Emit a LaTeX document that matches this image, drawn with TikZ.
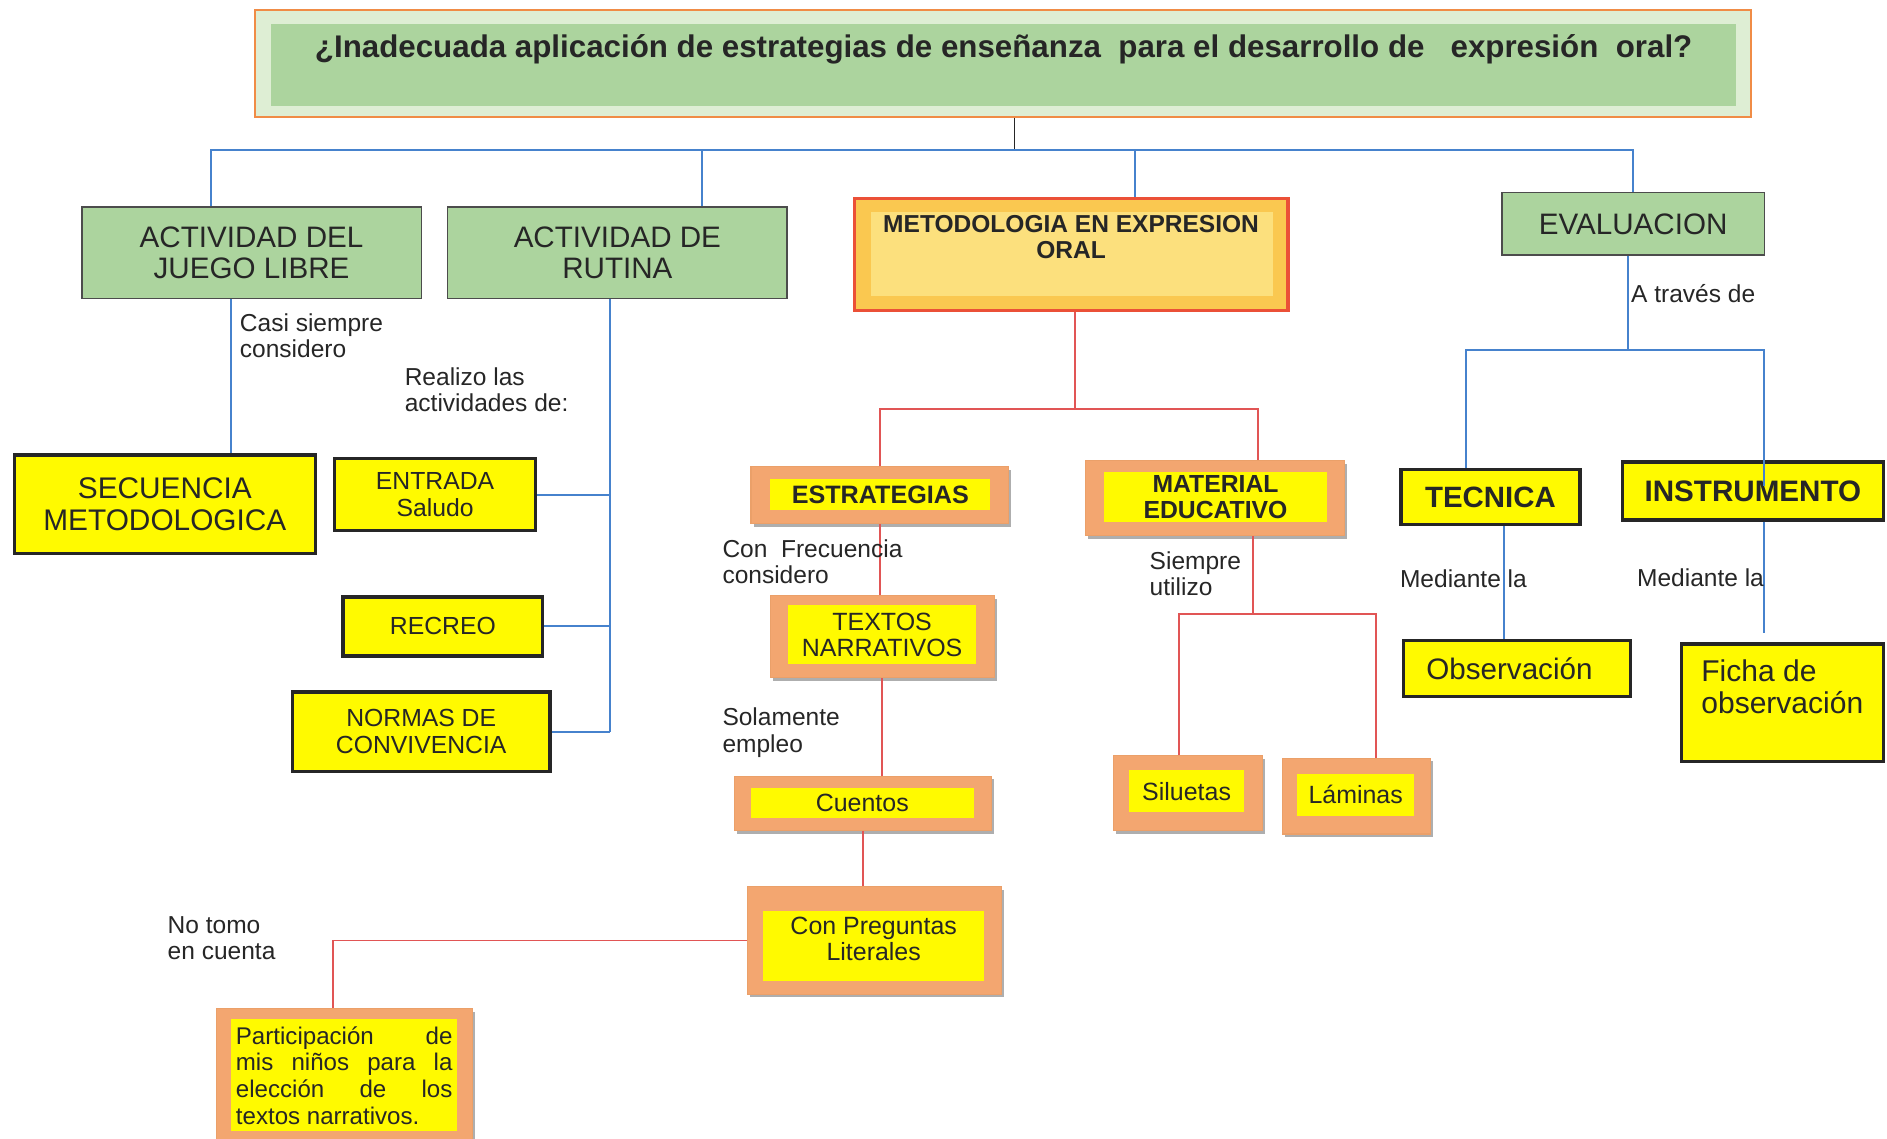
\documentclass[tikz,border=0pt]{standalone}
\usepackage{fontspec}
\setmainfont{Liberation Sans}
\usetikzlibrary{shadows}
\hyphenpenalty=10000
\exhyphenpenalty=10000

\definecolor{boxgreen}{RGB}{172,212,158}
\definecolor{titleorange}{RGB}{240,140,70}
\definecolor{titlepale}{RGB}{222,238,212}
\definecolor{boxyellow}{RGB}{255,250,0}
\definecolor{frameorange}{RGB}{243,166,112}
\definecolor{metred}{RGB}{235,80,55}
\definecolor{metgold}{RGB}{250,200,80}
\definecolor{metlight}{RGB}{252,224,125}
\definecolor{lineblue}{RGB}{70,130,205}
\definecolor{linered}{RGB}{225,85,85}

\begin{document}
\begin{tikzpicture}[x=0.02cm, y=-0.02cm,
    greenbox/.style={rectangle, draw=black!70, line width=0.6pt, fill=boxgreen, align=center, text=black!85, font=\fontsize{14}{15}\selectfont},
    yellowbox/.style={rectangle, draw=black!85, line width=1.6pt, fill=boxyellow, align=center, inner sep=1pt, text=black!85, font=\fontsize{11.7}{12.5}\selectfont},
    orangeframe/.style={rectangle, draw=frameorange!85!brown, line width=0.5pt, fill=frameorange, drop shadow={shadow xshift=1.2pt, shadow yshift=-1.5pt, fill=black!70, opacity=0.45}},
    innerbox/.style={rectangle, fill=boxyellow, align=center, inner sep=1pt, text=black!85, font=\fontsize{11.8}{12.5}\selectfont},
    note/.style={anchor=north west, align=left, inner sep=0pt, text=black!85, font=\fontsize{11.6}{12.5}\selectfont},
    blueline/.style={draw=lineblue, line width=0.9pt},
    redline/.style={draw=linered, line width=0.9pt}
]
\useasboundingbox (0,0) rectangle (1568,946);

% Title
\node[rectangle, draw=titleorange, line width=1pt, fill=titlepale, minimum width=24.86cm, minimum height=1.78cm] (titleframe) at (833.5,52.5) {};
\node[rectangle, fill=boxgreen, minimum width=24.36cm, minimum height=1.36cm, text=black!85, font=\fontsize{14.8}{16}\selectfont\bfseries] (title) at (834,54) {\raisebox{0.64cm}{¿Inadecuada aplicación de estrategias de enseñanza\ \ para el desarrollo de \ \ expresión\ \ oral?}};

% First level
\node[greenbox, minimum width=5.64cm, minimum height=1.52cm] (juego) at (209,210) {ACTIVIDAD DEL\\JUEGO LIBRE};
\node[greenbox, minimum width=5.64cm, minimum height=1.52cm] (rutina) at (513,210) {ACTIVIDAD DE\\RUTINA};
\node[rectangle, draw=metred, line width=1.8pt, fill=metgold, minimum width=7.2cm, minimum height=1.86cm] (metod) at (890,211.5) {};
\node[rectangle, fill=metlight, minimum width=6.68cm, minimum height=1.4cm] (metodfill) at (891,211) {};
\node[align=center, inner sep=0pt, text=black!85, font=\fontsize{11.6}{12.5}\selectfont\bfseries] (metodtext) at (890,197) {METODOLOGIA EN EXPRESION\\ORAL};
\node[greenbox, minimum width=4.36cm, minimum height=1.04cm] (evaluacion) at (1357,186) {EVALUACION};

% Juego libre y rutina
\node[yellowbox, minimum width=5cm, minimum height=1.64cm, font=\fontsize{14.1}{15.3}\selectfont] (secuencia) at (137,419) {SECUENCIA\\METODOLOGICA};
\node[yellowbox, minimum width=3.34cm, minimum height=1.2cm] (entrada) at (361.5,411) {ENTRADA\\Saludo};
\node[yellowbox, minimum width=3.32cm, minimum height=0.98cm] (recreo) at (368,520.5) {RECREO};
\node[yellowbox, minimum width=4.28cm, minimum height=1.32cm, font=\fontsize{11.7}{13}\selectfont] (normas) at (350,608) {NORMAS DE\\CONVIVENCIA};

% Metodologia
\node[orangeframe, minimum width=4.28cm, minimum height=0.94cm] (estrframe) at (731,411.5) {};
\node[innerbox, minimum width=3.66cm, minimum height=0.52cm, font=\fontsize{11.9}{12.5}\selectfont\bfseries] (estrategias) at (731.5,411) {ESTRATEGIAS};
\node[orangeframe, minimum width=4.3cm, minimum height=1.24cm] (matframe) at (1009.5,414) {};
\node[innerbox, minimum width=3.72cm, minimum height=0.84cm, font=\fontsize{11.7}{12.5}\selectfont\bfseries] (material) at (1010,413) {MATERIAL\\EDUCATIVO};
\node[orangeframe, minimum width=3.72cm, minimum height=1.36cm] (textosframe) at (733,529) {};
\node[innerbox, minimum width=3.12cm, minimum height=0.98cm] (textos) at (733,527.5) {TEXTOS\\NARRATIVOS};
\node[orangeframe, minimum width=4.28cm, minimum height=0.9cm] (cuentosframe) at (717,667.5) {};
\node[innerbox, minimum width=3.7cm, minimum height=0.5cm] (cuentos) at (716.5,667.5) {Cuentos};
\node[orangeframe, minimum width=4.22cm, minimum height=1.78cm] (pregframe) at (726.5,781.5) {};
\node[innerbox, minimum width=3.68cm, minimum height=1.16cm] (preguntas) at (726,786) {Con Preguntas\\Literales\\[-5.7pt]\mbox{}};
\node[orangeframe, minimum width=4.26cm, minimum height=2.24cm] (partframe) at (286.5,894) {};
\node[innerbox, minimum width=3.76cm, minimum height=1.86cm, text width=3.6cm, align=justify, font=\fontsize{11.4}{12.6}\selectfont] (participacion) at (286,893.5) {Participación de mis niños para la elección de los textos narrativos.};
\node[orangeframe, minimum width=2.48cm, minimum height=1.24cm] (silframe) at (987,659) {};
\node[innerbox, minimum width=1.92cm, minimum height=0.7cm] (siluetas) at (986,657.5) {Siluetas};
\node[orangeframe, minimum width=2.46cm, minimum height=1.26cm] (lamframe) at (1127.5,661.5) {};
\node[innerbox, minimum width=1.94cm, minimum height=0.7cm] (laminas) at (1126.5,660.5) {Láminas};

% Evaluacion
\node[yellowbox, minimum width=2.98cm, minimum height=0.92cm, font=\fontsize{13.9}{15}\selectfont\bfseries] (tecnica) at (1238.5,413) {TECNICA};
\node[yellowbox, minimum width=4.34cm, minimum height=0.96cm, font=\fontsize{14}{15}\selectfont\bfseries] (instrumento) at (1456.5,408) {INSTRUMENTO};
\node[yellowbox, minimum width=3.78cm, minimum height=0.94cm, font=\fontsize{14}{15}\selectfont] (observacion) at (1260.5,555.5) {Observación\hspace{0.25cm}};
\node[yellowbox, minimum width=3.36cm, minimum height=1.96cm, align=left, font=\fontsize{14.2}{15.3}\selectfont] (ficha) at (1481,584) {Ficha de\\observación\\\mbox{}};

% Connectors
\coordinate (busL) at (175,125);
\coordinate (busR) at (1357,125);
\draw[black!85, line width=0.8pt] ([xshift=0.19cm]titleframe.south) -- ([xshift=0.19cm]titleframe.south |- busL);
\draw[blueline] (juego.north -| busL) -- (busL) -- (busR) -- (evaluacion.north);
\draw[blueline] ([xshift=1.4cm]rutina.north) -- ([xshift=1.4cm]rutina.north |- busL);
\draw[blueline] ([xshift=1.06cm]metod.north) -- ([xshift=1.06cm]metod.north |- busL);

\draw[blueline] ([xshift=-0.34cm]juego.south) -- ([xshift=-0.34cm]juego.south |- secuencia.north);
\coordinate (rutspine) at (507,608);
\draw[blueline] (rutina.south -| rutspine) -- (rutspine);
\draw[blueline] (entrada.east) -- (entrada.east -| rutspine);
\draw[blueline] (recreo.east) -- (recreo.east -| rutspine);
\draw[blueline] (normas.east) -- (rutspine);

\coordinate (metjoin) at (893,340);
\draw[redline] (metod.south -| metjoin) -- (metjoin);
\draw[redline] (estrframe.north) |- (metjoin) -| ([xshift=0.71cm]matframe.north);
\draw[redline] (estrframe.south) -- (estrframe.south |- textosframe.north);
\draw[redline] (textosframe.south) -- (textosframe.south |- cuentosframe.north);
\draw[redline] (cuentosframe.south) -- (cuentosframe.south |- pregframe.north);
\draw[redline] (pregframe.west) -| ([xshift=-0.19cm]partframe.north);

\coordinate (matjoin) at (1041,510);
\draw[redline] (matframe.south -| matjoin) -- (matjoin);
\draw[redline] ([xshift=-0.14cm]silframe.north) |- (matjoin) -| ([xshift=0.31cm]lamframe.north);

\coordinate (evaljoin) at (1353,291);
\draw[blueline] (evaluacion.south -| evaljoin) -- (evaljoin);
\draw[blueline] ([xshift=-0.41cm]tecnica.north) |- (evaljoin) -| ([xshift=0.19cm, yshift=-0.42cm]instrumento.north);
\draw[blueline] ([xshift=0.23cm]tecnica.south) -- ([xshift=0.23cm]tecnica.south |- observacion.north);
\draw[blueline] ([xshift=0.19cm]instrumento.south) -- ([xshift=0.19cm, yshift=0.16cm]instrumento.south |- ficha.north);

% Labels
\node[note] (casi) at (199,260) {Casi siempre\\considero};
\node[note] (realizo) at (336,305) {Realizo las\\actividades de:};
\node[note] (frecuencia) at (600,448) {Con\ \ Frecuencia\\considero};
\node[note] (solamente) at (600,588) {Solamente\\empleo};
\node[note] (notomo) at (139,761) {No tomo\\en cuenta};
\node[note] (siempre) at (955,458) {Siempre\\utilizo};
\node[note] (traves) at (1355,236) {A través de};
\node[note] (mediante) at (1163,473) {Mediante la};
\node[note] (mediante2) at (1360,472) {Mediante la};

\end{tikzpicture}
\end{document}
